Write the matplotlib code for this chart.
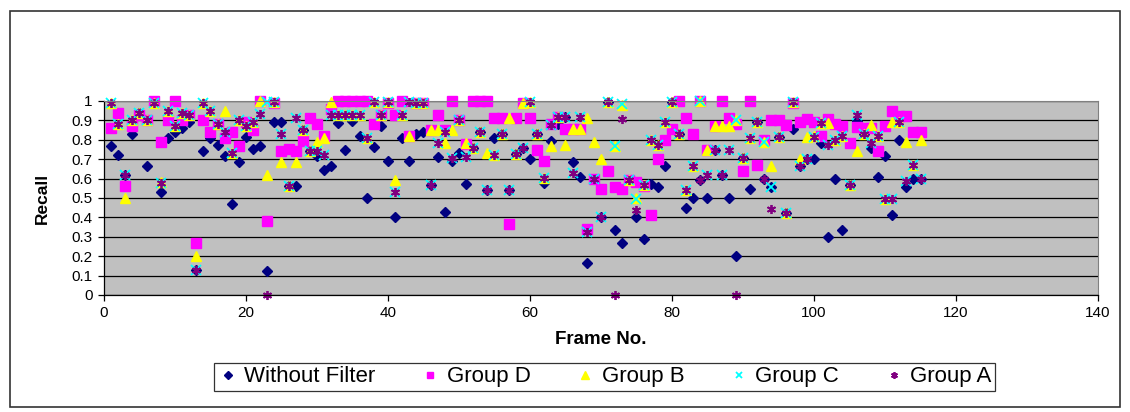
import matplotlib
matplotlib.use("Agg")
import matplotlib.pyplot as plt
from matplotlib.patches import Rectangle
import numpy as np

frames = list(range(1, 116))

without_filter = [
    .77, .72, .62, .83, .94, .665, .99, .53, .81, .84, .86, .89, .13, .74, .81,
    .775, .715, .47, .685, .815, .75, .77, .125, .89, .89, .56, .56, .85, .74, .715,
    .645, .665, .885, .745, .895, .82, .50, .765, .87, .69, .40, .81, .69, .83, .84,
    .565, .71, .43, .69, .73, .57, .76, .84, .54, .81, .83, .54, .725, .755, .70,
    .83, .575, .795, .88, .915, .685, .61, .165, .60, .40, .995, .335, .27, .595, .40,
    .287, .57, .555, .665, .995, .83, .45, .50, .595, .50, .745, .62, .50, .20, .705,
    .545, .89, .60, .555, .815, .425, .855, .665, .70, .70, .785, .30, .60, .335, .565,
    .895, .83, .76, .61, .715, .41, .80, .555, .60, .60]

group_d = [
    .86, .94, .56, .87, .93, .90, 1.0, .79, .90, 1.0, .90, .93, .27, .90, .84,
    .88, .81, .84, .77, .89, .85, 1.0, .38, .99, .74, .75, .74, .795, .91, .88,
    .82, .96, 1.0, 1.0, 1.0, 1.0, 1.0, .88, .93, .99, .93, 1.0, .82, .99, .99,
    .85, .93, .85, 1.0, .90, .78, 1.0, 1.0, 1.0, .91, .91, .365, .91, .99, .91,
    .745, .69, .88, .915, .855, .855, .855, .34, .60, .545, .64, .556, .545, .595, .58,
    .56, .41, .70, .80, .855, 1.0, .91, .83, 1.0, .745, .87, 1.0, .91, .88, .64,
    1.0, .67, .80, .90, .90, .875, .99, .89, .905, .89, .82, .905, .88, .87, .785,
    .865, .86, .86, .74, .87, .95, .92, .92, .84, .84]

group_b = [
    .99, .88, .50, .90, .94, .90, .99, .58, .95, .87, .94, .93, .20, .99, .95,
    .88, .95, .73, .90, .87, .89, 1.0, .62, .995, .685, .56, .685, .85, .74, .79,
    .81, .995, .93, .93, .93, .93, .81, .995, .93, .995, .595, .93, .82, .99, .99,
    .85, .85, .785, .85, .90, .785, .76, .84, .73, .72, .83, .91, .725, .99, .995,
    .83, .605, .77, .915, .775, .855, .855, .91, .79, .70, .995, .77, .98, .595, .50,
    .565, .80, .775, .89, .995, .83, .54, .665, 1.0, .745, .87, .87, .87, .90, .705,
    .81, .89, .79, .665, .815, .425, .995, .70, .815, .82, .885, .885, .80, .82, .565,
    .74, .83, .875, .82, .495, .89, .89, .79, .67, .80]

group_c = [
    .99, .88, .62, .90, .94, .90, .99, .577, .95, .87, .94, .93, .13, .99, .95,
    .88, .84, .73, .90, .87, .89, .935, .995, .995, .83, .56, .91, .85, .74, .74,
    .72, .93, .93, .93, .93, .93, .81, .995, .93, .995, .53, .93, .995, .99, .99,
    .565, .785, .84, .705, .90, .71, .76, .84, .54, .72, .83, .54, .725, .755, .995,
    .83, .605, .875, .915, .915, .63, .915, .327, .60, .40, .995, .77, .985, .595, .495,
    .565, .80, .775, .89, .995, .83, .54, .665, 1.0, .62, .745, .62, .745, .90, .705,
    .81, .89, .79, .555, .815, .425, .995, .665, .70, .815, .885, .775, .80, .82, .565,
    .93, .83, .785, .82, .495, .495, .89, .59, .67, .60]

group_a = [
    .99, .88, .62, .90, .94, .90, .99, .577, .95, .87, .94, .93, .13, .99, .95,
    .88, .84, .73, .90, .87, .89, .935, 0.0, .995, .83, .56, .91, .85, .74, .74,
    .72, .93, .93, .93, .93, .93, .81, .995, .93, .995, .53, .93, .995, .99, .99,
    .565, .785, .84, .705, .90, .71, .76, .84, .54, .72, .83, .54, .725, .755, .995,
    .83, .605, .875, .915, .915, .63, .915, .327, .60, .40, .995, 0.0, .905, .595, .44,
    .565, .80, .775, .89, .995, .83, .54, .665, .595, .62, .745, .62, .745, 0.0, .705,
    .81, .89, .60, .445, .815, .425, .995, .665, .70, .815, .885, .775, .80, .82, .565,
    .93, .83, .785, .82, .495, .495, .89, .59, .67, .60]

series_names = ["Without Filter", "Group D", "Group B", "Group C", "Group A"]
x_ticks = [0, 20, 40, 60, 80, 100, 120, 140]
y_ticks = [0, 0.1, 0.2, 0.3, 0.4, 0.5, 0.6, 0.7, 0.8, 0.9, 1]
y_tick_labels = ["0", "0.1", "0.2", "0.3", "0.4", "0.5", "0.6", "0.7", "0.8", "0.9", "1"]

plt.rcParams['font.family'] = ['Liberation Sans Narrow', 'Liberation Sans', 'DejaVu Sans']

fig = plt.figure(figsize=(11.3, 4.12), dpi=100)
fig.patch.set_facecolor("white")

# outer chart frame
fig.patches.append(Rectangle((0.009, 0.012), 0.982, 0.962, transform=fig.transFigure,
                             fill=False, edgecolor="#333333", linewidth=1.2))

ax = fig.add_axes([0.092, 0.284, 0.8797, 0.471])
ax.set_facecolor("#C0C0C0")

ax.set_xlim(0, 140)
ax.set_ylim(0, 1)
ax.set_xticks(x_ticks)
ax.set_yticks(y_ticks)
ax.set_yticklabels(y_tick_labels)
ax.yaxis.grid(True, color="black", linewidth=0.9)
ax.set_axisbelow(True)
ax.tick_params(axis="both", direction="out", length=4, width=0.9, labelsize=11, pad=4)
for side in ["top", "right"]:
    ax.spines[side].set_color("#808080")
    ax.spines[side].set_linewidth(0.8)
for side in ["left", "bottom"]:
    ax.spines[side].set_color("black")
    ax.spines[side].set_linewidth(0.9)

styles = [
    dict(marker="D", color="#000080", ms=5.5, mec="#000080"),
    dict(marker="s", color="#FF00FF", ms=6.5, mec="#FF00FF"),
    dict(marker="^", color="#FFFF00", ms=7.5, mec="#FFFF00"),
    dict(marker="x", color="#00FFFF", ms=6.5, mew=1.3),
    dict(marker=(6, 2, 0), color="#800080", ms=6.5, mew=1.3),
]
all_series = [without_filter, group_d, group_b, group_c, group_a]

for name, vals, st in zip(series_names, all_series, styles):
    ax.plot(frames, vals, linestyle="none", label=name, clip_on=False, **st)

ax.set_xlabel("Frame No.", fontsize=13.5, fontweight="bold", labelpad=8)
ax.set_ylabel("Recall", fontsize=12.5, fontweight="bold", labelpad=16)

leg = fig.legend(loc="center", bbox_to_anchor=(0.535, 0.085), ncol=5, frameon=True,
                 fancybox=False, edgecolor="black",
                 prop={'family': ['Liberation Sans', 'DejaVu Sans'], 'size': 16},
                 handletextpad=0.3, columnspacing=2.0, borderpad=0.15,
                 markerscale=0.75, handlelength=0.9)
leg.get_frame().set_linewidth(0.9)

fig.savefig("out.png", dpi=100, facecolor="white")
